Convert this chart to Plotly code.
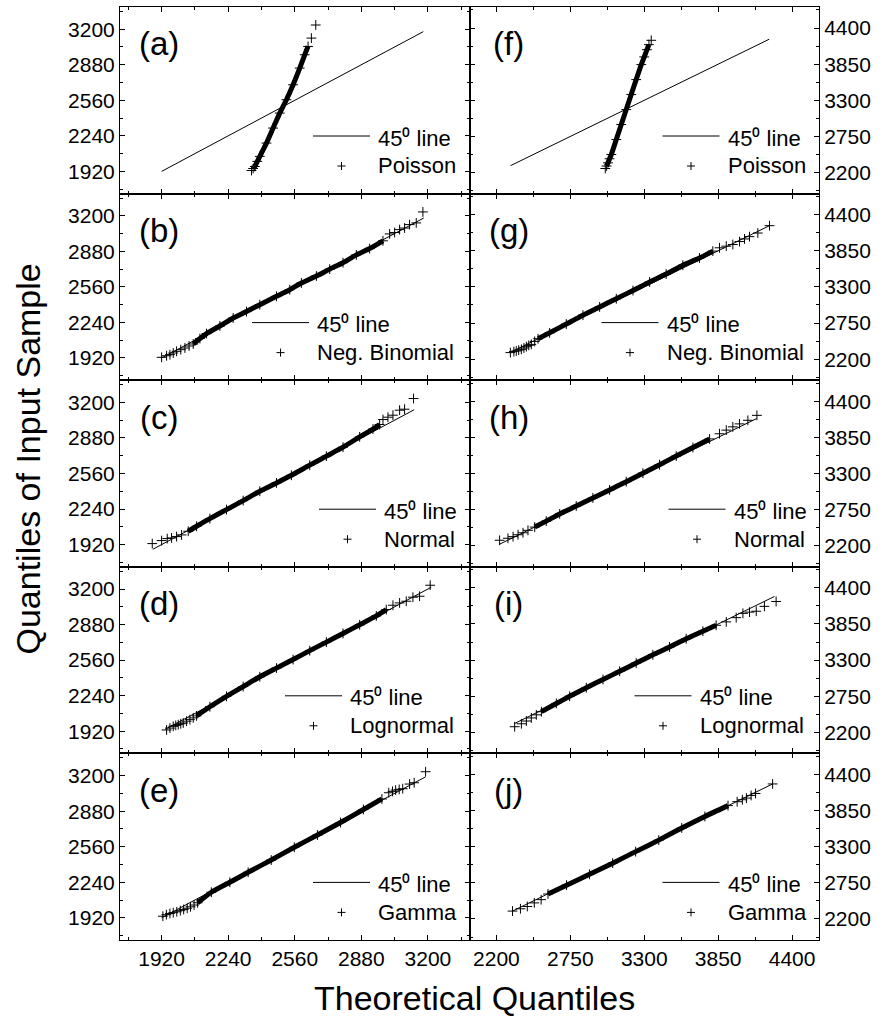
import plotly.graph_objects as go
from plotly.subplots import make_subplots

FONT = "Liberation Sans, Arial, sans-serif"

# ---------------- data ----------------
panel_ids = ["a", "b", "c", "d", "e", "f", "g", "h", "i", "j"]
dist_names = ["Poisson", "Neg. Binomial", "Normal", "Lognormal", "Gamma"]

left_ticks = [1920, 2240, 2560, 2880, 3200]
right_ticks = [2200, 2750, 3300, 3850, 4400]

# theoretical quantiles (x) and sample quantiles (y), left column
a_theo = [2352, 2360, 2368, 2380, 2392, 2424, 2456, 2488, 2520, 2552, 2584, 2608, 2624, 2640, 2661]
a_samp = [1928, 1946, 1964, 2010, 2055, 2175, 2310, 2445, 2565, 2700, 2850, 2970, 3045, 3120, 3238]

b_theo = [1920, 1944, 1960, 1976, 1992, 2012, 2032, 2052, 2072, 2104, 2136, 2200, 2264, 2328, 2392, 2472,
          2536, 2592, 2664, 2728, 2792, 2856, 2920, 2984, 3016, 3040, 3064, 3088, 3112, 3144, 3176]
b_samp = [1926, 1940, 1950, 1965, 1980, 1995, 2010, 2028, 2046, 2095, 2140, 2208, 2280, 2338, 2400, 2475,
          2535, 2595, 2658, 2720, 2778, 2848, 2905, 2975, 3037, 3050, 3076, 3090, 3121, 3136, 3235]

c_theo = [1875, 1920, 1947, 1968, 1992, 2016, 2048, 2088, 2152, 2232, 2312, 2392, 2472, 2544, 2632,
          2712, 2792, 2872, 2936, 2968, 2984, 3008, 3032, 3064, 3088, 3131]
c_samp = [1929, 1956, 1974, 1980, 1992, 2007, 2040, 2085, 2154, 2235, 2316, 2400, 2475, 2544, 2635,
          2716, 2797, 2890, 2960, 3001, 3046, 3067, 3085, 3130, 3139, 3235]

d_theo = [1944, 1960, 1976, 1988, 2000, 2012, 2024, 2040, 2056, 2072, 2088, 2152, 2232, 2312, 2392,
          2472, 2552, 2632, 2712, 2792, 2872, 2952, 3000, 3032, 3064, 3096, 3128, 3160, 3211]
d_samp = [1931, 1948, 1964, 1972, 1979, 1987, 1994, 2010, 2024, 2040, 2058, 2140, 2234, 2322, 2410,
          2488, 2565, 2645, 2722, 2800, 2878, 2958, 3015, 3054, 3075, 3090, 3126, 3135, 3234]

e_theo = [1926, 1943, 1960, 1976, 1993, 2010, 2026, 2043, 2059, 2076, 2093, 2159, 2248, 2336, 2447,
          2558, 2669, 2780, 2890, 2979, 3012, 3030, 3045, 3062, 3079, 3112, 3134, 3189]
e_samp = [1934, 1948, 1959, 1966, 1974, 1984, 1995, 2006, 2019, 2035, 2055, 2150, 2240, 2330, 2440,
          2555, 2665, 2778, 2895, 2990, 3046, 3058, 3070, 3076, 3082, 3124, 3136, 3235]

# right column
f_theo = [3010, 3020, 3030, 3042, 3055, 3092, 3129, 3166, 3203, 3240, 3278, 3300, 3320, 3335, 3352]
f_samp = [2262, 2300, 2348, 2410, 2475, 2703, 2931, 3159, 3387, 3615, 3843, 3960, 4070, 4147, 4213]

g_theo = [2304, 2330, 2348, 2366, 2386, 2405, 2423, 2441, 2460, 2485, 2510, 2596, 2720, 2844, 2968,
          3092, 3216, 3340, 3463, 3587, 3711, 3810, 3860, 3910, 3959, 4009, 4046, 4083, 4145, 4232]
g_samp = [2300, 2315, 2325, 2338, 2350, 2370, 2390, 2410, 2425, 2470, 2511, 2601, 2735, 2870, 2995,
          3120, 3245, 3375, 3495, 3630, 3740, 3845, 3895, 3920, 3945, 3990, 4030, 4065, 4120, 4232]

h_theo = [2224, 2286, 2324, 2361, 2398, 2435, 2485, 2571, 2671, 2794, 2918, 3042, 3166, 3290, 3414,
          3538, 3662, 3786, 3860, 3910, 3959, 4009, 4071, 4138]
h_samp = [2284, 2314, 2339, 2368, 2398, 2435, 2485, 2575, 2685, 2805, 2928, 3050, 3176, 3305, 3434,
          3565, 3695, 3826, 3905, 3960, 4010, 4055, 4110, 4185]

i_theo = [2336, 2386, 2423, 2460, 2497, 2535, 2646, 2745, 2869, 2993, 3117, 3240, 3364, 3488, 3612,
          3736, 3835, 3910, 3984, 4034, 4083, 4133, 4194, 4281]
i_samp = [2286, 2331, 2373, 2420, 2467, 2515, 2640, 2750, 2880, 3005, 3130, 3255, 3380, 3500, 3625,
          3740, 3830, 3882, 3946, 4011, 4030, 4044, 4118, 4192]

j_theo = [2320, 2379, 2430, 2482, 2533, 2584, 2722, 2893, 3065, 3236, 3408, 3579, 3751, 3923, 3991,
          4030, 4060, 4095, 4128, 4255]
j_samp = [2320, 2355, 2390, 2445, 2494, 2580, 2715, 2880, 3050, 3225, 3400, 3585, 3760, 3925, 3985,
          4015, 4040, 4080, 4110, 4255]

# extent of each 45-degree reference line (y = x)
a_line = [1920, 3178]
b_line = [1920, 3180]
c_line = [1878, 3134]
d_line = [1938, 3216]
e_line = [1920, 3189]
f_line = [2305, 4230]
g_line = [2300, 4232]
h_line = [2219, 4135]
i_line = [2336, 4269]
j_line = [2320, 4255]

# ---------------- structure / styling ----------------
theo = {"a": a_theo, "b": b_theo, "c": c_theo, "d": d_theo, "e": e_theo,
        "f": f_theo, "g": g_theo, "h": h_theo, "i": i_theo, "j": j_theo}
samp = {"a": a_samp, "b": b_samp, "c": c_samp, "d": d_samp, "e": e_samp,
        "f": f_samp, "g": g_samp, "h": h_samp, "i": i_samp, "j": j_samp}
lines = {"a": a_line, "b": b_line, "c": c_line, "d": d_line, "e": e_line,
         "f": f_line, "g": g_line, "h": h_line, "i": i_line, "j": j_line}
# where the dense band starts / ends (index of first band point, count of pure upper-tail points)
band = {"a": (1, 2), "b": (8, 7), "c": (6, 6), "d": (10, 6), "e": (10, 8),
        "f": (1, 1), "g": (10, 8), "h": (6, 6), "i": (5, 7), "j": (5, 6)}

# legend text start, px from panel's left edge
legend_text_px = {"Poisson": 256, "Neg. Binomial": 195, "Normal": 262, "Lognormal": 228, "Gamma": 256}

W = 883
H = 1017
ML, MR, MT, MB = 120, 64, 7, 77
PW = (W - ML - MR) / 2.0
PH = (H - MT - MB) / 5.0

fig = make_subplots(rows=5, cols=2, horizontal_spacing=0, vertical_spacing=0)

annotations = []
shapes = []

for k, pid in enumerate(panel_ids):
    col = 1 if k < 5 else 2
    row = k % 5 + 1
    idx = (row - 1) * 2 + col
    xs = theo[pid]
    ys = samp[pid]
    lo, hi = band[pid]
    n = len(xs)
    # 45 degree line
    fig.add_trace(go.Scatter(x=lines[pid], y=lines[pid], mode="lines",
                             line=dict(color="black", width=1), showlegend=False,
                             hoverinfo="skip"), row=row, col=col)
    # dense band of overlapping points
    fig.add_trace(go.Scatter(x=xs[lo:n - hi], y=ys[lo:n - hi], mode="lines",
                             line=dict(color="black", width=5, shape="spline", smoothing=0.6),
                             showlegend=False, hoverinfo="skip"), row=row, col=col)
    # sample points
    fig.add_trace(go.Scatter(x=xs, y=ys, mode="markers",
                             marker=dict(symbol="cross-thin", size=7, color="black",
                                         line=dict(color="black", width=1)),
                             showlegend=False), row=row, col=col)

    xr = "x domain" if idx == 1 else f"x{idx} domain"
    yr = "y domain" if idx == 1 else f"y{idx} domain"
    # panel label
    annotations.append(dict(text=f"({pid})", xref=xr, yref=yr, x=39 / PW, y=1 - 37 / PH,
                            xanchor="center", yanchor="middle", showarrow=False,
                            font=dict(family=FONT, size=33, color="black")))
    name = dist_names[row - 1]
    tx = legend_text_px[name]
    y1 = 1 - 131 / PH
    y2 = 1 - 159 / PH
    annotations.append(dict(text="45\u2070 line", xref=xr, yref=yr, x=tx / PW, y=y1,
                            xanchor="left", yanchor="middle", showarrow=False,
                            font=dict(family=FONT, size=22, color="black")))
    annotations.append(dict(text=name, xref=xr, yref=yr, x=tx / PW, y=y2,
                            xanchor="left", yanchor="middle", showarrow=False,
                            font=dict(family=FONT, size=22, color="black")))
    shapes.append(dict(type="line", xref=xr, yref=yr, x0=(tx - 63) / PW, x1=(tx - 6) / PW,
                       y0=1 - 129 / PH, y1=1 - 129 / PH, line=dict(color="black", width=1)))
    cx = (tx - 34.5) / PW
    shapes.append(dict(type="line", xref=xr, yref=yr, x0=cx - 4 / PW, x1=cx + 4 / PW,
                       y0=y2, y1=y2, line=dict(color="black", width=1)))
    shapes.append(dict(type="line", xref=xr, yref=yr, x0=cx, x1=cx,
                       y0=y2 - 4 / PH, y1=y2 + 4 / PH, line=dict(color="black", width=1)))

axis_common = dict(showline=True, linecolor="black", linewidth=1, mirror="ticks",
                   ticks="inside", ticklen=5, tickwidth=1, tickcolor="black",
                   showgrid=False, zeroline=False,
                   tickfont=dict(family=FONT, size=21, color="black"))

for row in range(1, 6):
    for col in (1, 2):
        if col == 1:
            xa = dict(range=[1720, 3400], tickvals=left_ticks,
                      minor=dict(ticks="inside", ticklen=3, tick0=1920, dtick=160, tickcolor="black"))
            ya = dict(range=[1720, 3400], tickvals=left_ticks, side="left",
                      minor=dict(ticks="inside", ticklen=3, tick0=1920, dtick=160, tickcolor="black"))
        else:
            xa = dict(range=[2000, 4600], tickvals=right_ticks,
                      minor=dict(ticks="inside", ticklen=3, tick0=2200, dtick=275, tickcolor="black"))
            ya = dict(range=[1880, 4720], tickvals=right_ticks, side="right",
                      minor=dict(ticks="inside", ticklen=3, tick0=2200, dtick=275, tickcolor="black"))
        xa.update(axis_common)
        ya.update(axis_common)
        xa["showticklabels"] = (row == 5)
        fig.update_xaxes(row=row, col=col, **xa)
        fig.update_yaxes(row=row, col=col, **ya)

annotations.append(dict(text="Theoretical Quantiles", xref="paper", yref="paper",
                        x=(474 - ML) / (W - ML - MR), y=-(998 - (H - MB)) / (H - MT - MB),
                        xanchor="center", yanchor="middle", showarrow=False,
                        font=dict(family=FONT, size=34, color="black")))
annotations.append(dict(text="Quantiles of Input Sample", xref="paper", yref="paper",
                        x=(27.5 - ML) / (W - ML - MR), y=((H - MB) - 459) / (H - MT - MB),
                        xanchor="center", yanchor="middle", textangle=-90, showarrow=False,
                        font=dict(family=FONT, size=34, color="black")))

fig.update_layout(width=W, height=H, margin=dict(l=ML, r=MR, t=MT, b=MB, pad=0),
                  paper_bgcolor="white", plot_bgcolor="white",
                  annotations=annotations, shapes=shapes, showlegend=False,
                  font=dict(family=FONT, color="black"))

fig.write_html("out.html")
